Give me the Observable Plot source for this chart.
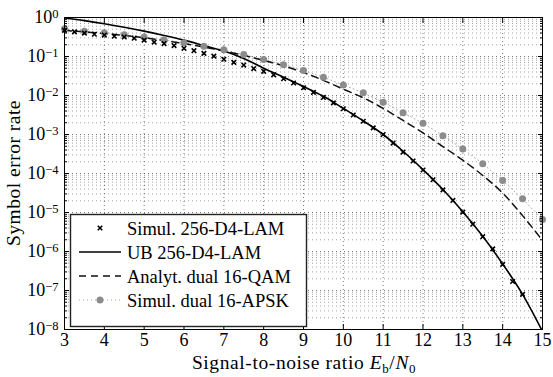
<!DOCTYPE html>
<html><head><meta charset="utf-8">
<script src="https://cdn.jsdelivr.net/npm/d3@7"></script>
<script src="https://cdn.jsdelivr.net/npm/@observablehq/plot@0.6"></script>
<style>body{margin:0;background:#fff} #chart{width:553px;height:377px}</style>
</head><body><div id="chart"></div>
<script>
// Simulated 256-D4-LAM (crosses)
const snrSim = [3,3.25,3.5,3.75,4,4.25,4.5,4.75,5,5.25,5.5,5.75,6,6.25,6.5,6.75,7,7.25,7.5,7.75,8,8.25,8.5,8.75,9,9.25,9.5,9.75,10,10.25,10.5,10.75,11,11.25,11.5,11.75,12,12.25,12.5,12.75,13,13.25,13.5,13.75,14,14.25,14.5];
const serSim = [0.468,0.427,0.398,0.372,0.355,0.331,0.316,0.295,0.263,0.234,0.214,0.191,0.162,0.141,0.120,0.102,0.0851,0.0708,0.0603,0.0490,0.0417,0.0339,0.0269,0.0209,0.0158,0.0120,8.91e-3,6.46e-3,4.57e-3,3.16e-3,2.19e-3,1.48e-3,1.00e-3,6.03e-4,3.55e-4,2.09e-4,1.23e-4,6.92e-5,3.80e-5,2.04e-5,1.02e-5,5.01e-6,2.40e-6,1.17e-6,4.68e-7,1.70e-7,7.94e-8];
// Union bound 256-D4-LAM (solid)
const snrUB = [3,3.5,4,4.5,5,5.5,6,6.5,7,7.5,8,8.5,9,9.5,10,10.5,11,11.5,12,12.5,13,13.5,14,14.5,15];
const serUB = [0.97,0.832,0.692,0.562,0.447,0.347,0.263,0.191,0.138,0.0891,0.0501,0.0295,0.0170,9.55e-3,4.68e-3,2.24e-3,1.0e-3,3.72e-4,1.26e-4,3.89e-5,1.05e-5,2.45e-6,4.79e-7,7.94e-8,8.91e-9];
// Analytical dual 16-QAM (dashed)
const snrQAM = [3,3.5,4,4.5,5,5.5,6,6.5,7,7.5,8,8.5,9,9.5,10,10.5,11,11.5,12,12.5,13,13.5,14,14.5,15];
const serQAM = [0.468,0.427,0.389,0.347,0.302,0.257,0.214,0.174,0.138,0.107,0.0794,0.0575,0.0389,0.0245,0.0145,8.71e-3,4.68e-3,2.29e-3,1.10e-3,4.90e-4,2.19e-4,8.91e-5,3.16e-5,8.32e-6,1.91e-6];
// Simulated dual 16-APSK (gray dots)
const snrAPSK = [3,3.5,4,4.5,5,5.5,6,6.5,7,7.5,8,8.5,9,9.5,10,10.5,11,11.5,12,12.5,13,13.5,14,14.5,15];
const serAPSK = [0.513,0.447,0.407,0.363,0.316,0.269,0.224,0.182,0.148,0.112,0.0832,0.0617,0.0437,0.0295,0.0186,0.0117,6.76e-3,3.63e-3,1.95e-3,9.33e-4,4.27e-4,1.78e-4,6.61e-5,2.24e-5,6.61e-6];

const xTicks = [3,4,5,6,7,8,9,10,11,12,13,14,15];
const yTicks = [1e-8,1e-7,1e-6,1e-5,1e-4,1e-3,1e-2,1e-1,1];
const legendLabels = ["Simul. 256-D4-LAM","UB 256-D4-LAM","Analyt. dual 16-QAM","Simul. dual 16-APSK"];
const xLabel = ["Signal-to-noise ratio ", "E", "b", "/", "N", "0"];
const yLabel = "Symbol error rate";

const yMinor = [];
for (let k = -8; k < 0; k++) for (let m = 2; m <= 9; m++) yMinor.push(m * Math.pow(10, k));

const toRows = (xs, ys) => xs.map((x, i) => ({snr: x, ser: ys[i]}));
const sim = toRows(snrSim, serSim), ub = toRows(snrUB, serUB), qam = toRows(snrQAM, serQAM), apsk = toRows(snrAPSK, serAPSK);

const gridStyle = {stroke: "#222", strokeOpacity: 0.6, strokeDasharray: "1,3"};

const svg = Plot.plot({
  width: 553, height: 377,
  marginLeft: 64, marginRight: 11, marginTop: 17, marginBottom: 48,
  style: {fontFamily: "Liberation Serif", fontSize: "18px", background: "white", color: "black"},
  x: {domain: [3, 15]},
  y: {type: "log", domain: [1e-8, 1]},
  marks: [
    Plot.gridX(xTicks.slice(1, -1), gridStyle),
    Plot.gridY(yTicks.slice(1, -1), gridStyle),
    Plot.gridY(yMinor, {...gridStyle, strokeOpacity: 0.42}),
    Plot.line(apsk, {x: "snr", y: "ser", stroke: "#aaa", strokeWidth: 1, strokeDasharray: "1,3"}),
    Plot.line(qam, {x: "snr", y: "ser", stroke: "#111", strokeWidth: 1.5, strokeDasharray: "7,5", curve: "monotone-x", clip: true}),
    Plot.line(ub, {x: "snr", y: "ser", stroke: "#000", strokeWidth: 1.6, curve: "monotone-x", clip: true}),
    Plot.dot(apsk, {x: "snr", y: "ser", r: 3.5, fill: "#8c8c8c", stroke: "none"}),
    Plot.dot(sim, {x: "snr", y: "ser", symbol: "times", r: 2.2, stroke: "#000", strokeWidth: 1.6}),
    Plot.frame({stroke: "#000", strokeWidth: 1}),
    Plot.axisX(xTicks, {anchor: "bottom", tickSize: -5, tickPadding: 9, label: null, fontSize: 18}),
    Plot.axisX(xTicks, {anchor: "top", tickSize: -5, tickFormat: () => "", label: null}),
    Plot.axisY(yTicks, {anchor: "left", tickSize: -5, tickPadding: 11, label: null, fontSize: 18,
      tickFormat: d => String(Math.round(Math.log10(d)))}),
    Plot.axisY(yTicks, {anchor: "right", tickSize: -5, tickFormat: () => "", label: null}),
    Plot.axisY(yMinor, {anchor: "left", tickSize: -3, tickFormat: () => "", label: null}),
    Plot.axisY(yMinor, {anchor: "right", tickSize: -3, tickFormat: () => "", label: null})
  ]
});

const s = d3.select(svg);
// Superscript tick labels 10^k
s.selectAll('g[aria-label="y-axis tick label"] text').each(function() {
  const t = d3.select(this);
  const e = t.text();
  if (!e) return;
  t.text("");
  t.append("tspan").text("10");
  t.append("tspan").attr("dy", "-5").attr("font-size", "12.5px").text(e.replace("-", "\u2212"));
});

// x label
const xl = s.append("text").attr("x", 304).attr("y", 369).attr("text-anchor", "middle")
  .attr("font-size", "19.5px").attr("letter-spacing", "0.6px").attr("fill", "#000");
xl.append("tspan").text(xLabel[0]);
xl.append("tspan").attr("font-style", "italic").text(xLabel[1]);
xl.append("tspan").attr("dy", 4).attr("font-size", "13px").text(xLabel[2]);
xl.append("tspan").attr("dy", -4).text(xLabel[3]);
xl.append("tspan").attr("font-style", "italic").text(xLabel[4]);
xl.append("tspan").attr("dy", 4).attr("font-size", "13px").text(xLabel[5]);

// y label
s.append("text").attr("transform", "translate(20,173) rotate(-90)").attr("text-anchor", "middle")
  .attr("font-size", "19.5px").attr("letter-spacing", "0.5px").attr("fill", "#000").text(yLabel);

// legend
const lg = s.append("g");
lg.append("rect").attr("x", 70.5).attr("y", 214.5).attr("width", 236).attr("height", 112)
  .attr("fill", "white").attr("stroke", "#222").attr("stroke-width", 1.4);
const rowY = [228, 252, 276, 300];
lg.append("path").attr("d", d3.symbol(d3.symbolTimes, 15)()).attr("transform", `translate(100,${rowY[0]})`)
  .attr("stroke", "#000").attr("stroke-width", 1.6).attr("fill", "none");
lg.append("line").attr("x1", 79).attr("x2", 121).attr("y1", rowY[1]).attr("y2", rowY[1]).attr("stroke", "#000").attr("stroke-width", 1.6);
lg.append("line").attr("x1", 79).attr("x2", 121).attr("y1", rowY[2]).attr("y2", rowY[2]).attr("stroke", "#111").attr("stroke-width", 1.5).attr("stroke-dasharray", "7,5");
lg.append("line").attr("x1", 79).attr("x2", 121).attr("y1", rowY[3]).attr("y2", rowY[3]).attr("stroke", "#aaa").attr("stroke-width", 1).attr("stroke-dasharray", "1,3");
lg.append("circle").attr("cx", 100).attr("cy", rowY[3]).attr("r", 3.5).attr("fill", "#8c8c8c");
legendLabels.forEach((l, i) => {
  lg.append("text").attr("x", 127).attr("y", rowY[i] + 6.5).attr("text-anchor", "start")
    .attr("font-size", "18.5px").attr("fill", "#000").text(l);
});

document.getElementById("chart").appendChild(svg);
</script>
</body></html>
